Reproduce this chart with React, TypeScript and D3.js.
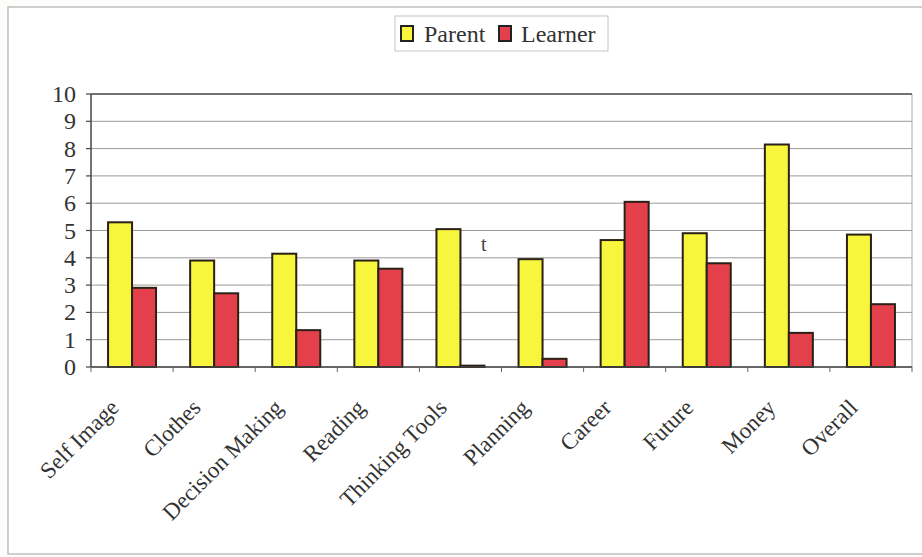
import React from "react";
import * as d3 from "d3";

const categories = [
  "Self Image",
  "Clothes",
  "Decision Making",
  "Reading",
  "Thinking Tools",
  "Planning",
  "Career",
  "Future",
  "Money",
  "Overall",
];
const parentValues = [5.3, 3.9, 4.15, 3.9, 5.05, 3.95, 4.65, 4.9, 8.15, 4.85];
const learnerValues = [2.9, 2.7, 1.35, 3.6, 0.05, 0.3, 6.05, 3.8, 1.25, 2.3];
const seriesNames = ["Parent", "Learner"];
const seriesColors = ["#f7f53c", "#e3404c"];
const yTicks = [0, 1, 2, 3, 4, 5, 6, 7, 8, 9, 10];

const W = 922;
const H = 557;
const plot = { left: 91, right: 912, top: 94, bottom: 367 };
const FONT = "'Liberation Serif', 'Times New Roman', serif";

export default function App() {
  const x = d3
    .scaleBand<string>()
    .domain(categories)
    .range([plot.left, plot.right])
    .paddingInner(0)
    .paddingOuter(0);
  const y = d3.scaleLinear().domain([0, 10]).range([plot.bottom, plot.top]);
  const barW = 24;
  const series = [parentValues, learnerValues];
  const legendPos = [
    { box: 401, text: 424 },
    { box: 499, text: 521 },
  ];

  return (
    <svg
      width={W}
      height={H}
      style={{ position: "absolute", left: 0, top: 0, background: "#fff" }}
      fontFamily={FONT}
    >
      <rect x={0} y={0} width={W} height={H} fill="#fdfdfb" />
      {/* outer chart frame */}
      <rect x={8} y={7} width={W + 10} height={547} fill="#fff" stroke="#b0b0b0" strokeWidth={1.2} />

      {/* legend */}
      <g>
        <rect x={395} y={16} width={213} height={35} fill="#fff" stroke="#c4c4c4" strokeWidth={1} />
        {seriesNames.map((name, i) => (
          <g key={name}>
            <rect
              x={legendPos[i].box}
              y={26}
              width={12}
              height={15}
              fill={seriesColors[i]}
              stroke="#222"
              strokeWidth={2}
            />
            <text x={legendPos[i].text} y={42} fontSize={24} fill="#333">
              {name}
            </text>
          </g>
        ))}
      </g>

      {/* gridlines */}
      {yTicks.map((t) => (
        <line
          key={"g" + t}
          x1={plot.left}
          x2={plot.right}
          y1={y(t)}
          y2={y(t)}
          stroke="#9a9a9a"
          strokeWidth={1}
        />
      ))}
      {/* right border of plot */}
      <line x1={plot.right} x2={plot.right} y1={plot.top} y2={plot.bottom} stroke="#a8a8a8" strokeWidth={1} />
      <line x1={plot.left} x2={plot.right} y1={plot.top} y2={plot.top} stroke="#555" strokeWidth={1.5} />

      {/* bars */}
      {categories.map((c, ci) => {
        const cx = (x(c) as number) + x.bandwidth() / 2;
        return series.map((vals, si) => {
          const bx = cx - barW + si * barW;
          const top = y(vals[ci]);
          return (
            <rect
              key={c + si}
              x={bx}
              y={top}
              width={barW}
              height={plot.bottom - top}
              fill={seriesColors[si]}
              stroke="#2a2016"
              strokeWidth={2}
            />
          );
        });
      })}

      {/* axes */}
      <line x1={plot.left} x2={plot.left} y1={plot.top} y2={plot.bottom} stroke="#444" strokeWidth={1.5} />
      <line x1={plot.left} x2={plot.right} y1={plot.bottom} y2={plot.bottom} stroke="#444" strokeWidth={1.5} />
      {yTicks.map((t) => (
        <g key={"yt" + t}>
          <line x1={plot.left - 5} x2={plot.left} y1={y(t)} y2={y(t)} stroke="#444" strokeWidth={1.2} />
          <text x={76} y={y(t) + 8} textAnchor="end" fontSize={24} fill="#333">
            {t}
          </text>
        </g>
      ))}
      {categories.map((c) => (
        <line
          key={"xt" + c}
          x1={x(c) as number}
          x2={x(c) as number}
          y1={plot.bottom}
          y2={plot.bottom + 5}
          stroke="#666"
          strokeWidth={1}
        />
      ))}
      <line x1={plot.right} x2={plot.right} y1={plot.bottom} y2={plot.bottom + 5} stroke="#666" strokeWidth={1} />

      {/* category labels */}
      {categories.map((c) => {
        const cx = (x(c) as number) + x.bandwidth() / 2;
        return (
          <text
            key={"l" + c}
            transform={`translate(${cx - 12},${plot.bottom + 42}) rotate(-45)`}
            textAnchor="end"
            fontSize={23}
            fill="#333"
          >
            {c}
          </text>
        );
      })}

      <text x={481} y={251} fontSize={20} fill="#444">
        t
      </text>
    </svg>
  );
}
